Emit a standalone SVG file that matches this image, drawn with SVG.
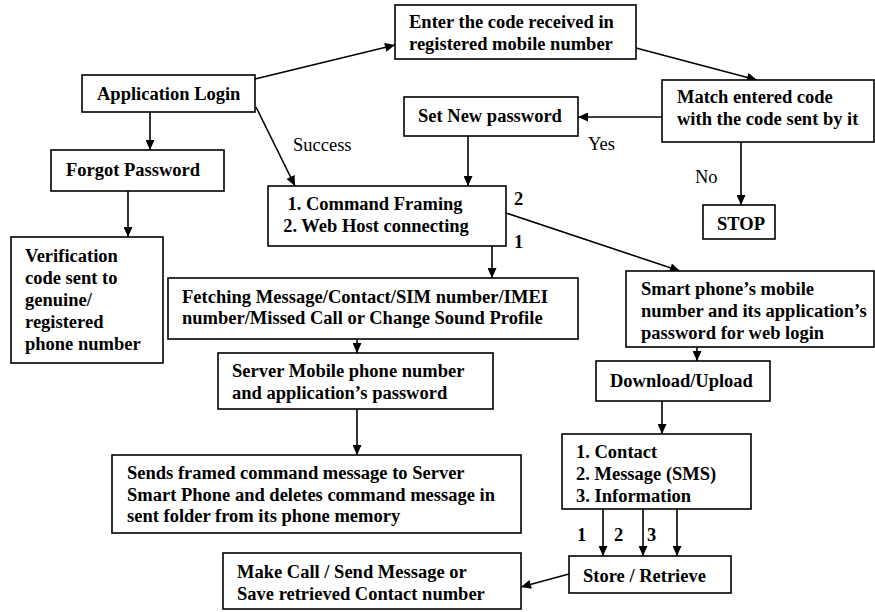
<svg xmlns="http://www.w3.org/2000/svg" width="875" height="612" viewBox="0 0 875 612">
  <style>
    .box { fill: #fff; stroke: #000; stroke-width: 1.6; }
    .t { font-family: "Liberation Serif", "Times New Roman", serif; font-size: 18.5px; font-weight: bold; fill: #000; }
    .lbl { font-family: "Liberation Serif", "Times New Roman", serif; font-size: 18.5px; fill: #000; }
    .c line { stroke: #000; stroke-width: 1.6; marker-end: url(#ah); }
  </style>
  <defs>
    <marker id="ah" viewBox="0 0 10 9" refX="10" refY="4.5" markerWidth="11" markerHeight="9" orient="auto" markerUnits="userSpaceOnUse">
      <path d="M0,0 L10,4.5 L0,9 z" fill="#000"/>
    </marker>
  </defs>
  <rect width="875" height="612" fill="#fff"/>

  <g id="connectors" class="c">
    <line x1="255" y1="79" x2="395" y2="45"/>
    <line x1="636" y1="48" x2="757" y2="80"/>
    <line x1="662" y1="117" x2="578" y2="117"/>
    <line x1="741" y1="142" x2="741" y2="205"/>
    <line x1="468" y1="136" x2="468" y2="186"/>
    <line x1="150" y1="112" x2="150" y2="150"/>
    <line x1="256" y1="107" x2="295" y2="186"/>
    <line x1="128" y1="191" x2="128" y2="237"/>
    <line x1="492" y1="246" x2="492" y2="278"/>
    <line x1="506" y1="213" x2="680" y2="271"/>
    <line x1="357" y1="320" x2="357" y2="353"/>
    <line x1="357" y1="409" x2="357" y2="455"/>
    <line x1="697" y1="347" x2="697" y2="361"/>
    <line x1="662" y1="401" x2="662" y2="434"/>
    <line x1="603" y1="509" x2="603" y2="556"/>
    <line x1="643" y1="509" x2="643" y2="556"/>
    <line x1="677" y1="509" x2="677" y2="556"/>
    <line x1="569" y1="574" x2="521" y2="587"/>
  </g>

  <g id="edge-labels">
    <text class="lbl" x="293" y="151">Success</text>
    <text class="lbl" x="588" y="150">Yes</text>
    <text class="lbl" x="695" y="183">No</text>
    <text class="t" x="514" y="205">2</text>
    <text class="t" x="514" y="248">1</text>
    <text class="t" x="577" y="541">1</text>
    <text class="t" x="614" y="541">2</text>
    <text class="t" x="647" y="541">3</text>
  </g>

  <g id="app-login">
    <rect class="box" x="82" y="75" width="173" height="37"/>
    <text class="t" x="97" y="100">Application Login</text>
  </g>
  <g id="enter-code">
    <rect class="box" x="395" y="5" width="241" height="54"/>
    <text class="t" x="409" y="28">Enter the code received in</text>
    <text class="t" x="409" y="50">registered mobile number</text>
  </g>
  <g id="match-code">
    <rect class="box" x="662" y="80" width="212" height="62"/>
    <text class="t" x="677" y="103">Match entered code</text>
    <text class="t" x="677" y="125">with the code sent by it</text>
  </g>
  <g id="set-password">
    <rect class="box" x="404" y="97" width="174" height="39"/>
    <text class="t" x="418" y="122">Set New password</text>
  </g>
  <g id="stop">
    <rect class="box" x="703" y="205" width="72" height="34"/>
    <text class="t" x="717" y="230">STOP</text>
  </g>
  <g id="forgot-password">
    <rect class="box" x="51" y="150" width="173" height="41"/>
    <text class="t" x="66" y="176">Forgot Password</text>
  </g>
  <g id="verification">
    <rect class="box" x="11" y="237" width="152" height="126"/>
    <text class="t" x="25" y="262">Verification</text>
    <text class="t" x="25" y="284">code sent to</text>
    <text class="t" x="25" y="306">genuine/</text>
    <text class="t" x="25" y="328">registered</text>
    <text class="t" x="25" y="350">phone number</text>
  </g>
  <g id="command">
    <rect class="box" x="268" y="186" width="238" height="60"/>
    <text class="t" x="375" y="210" text-anchor="middle">1. Command Framing</text>
    <text class="t" x="376" y="232" text-anchor="middle">2. Web Host connecting</text>
  </g>
  <g id="fetching">
    <rect class="box" x="168" y="278" width="410" height="61"/>
    <text class="t" x="182" y="303" textLength="366" lengthAdjust="spacing">Fetching Message/Contact/SIM number/IMEI</text>
    <text class="t" x="182" y="324">number/Missed Call or Change Sound Profile</text>
  </g>
  <g id="server">
    <rect class="box" x="218" y="353" width="275" height="56"/>
    <text class="t" x="232" y="377">Server Mobile phone number</text>
    <text class="t" x="232" y="399">and application’s password</text>
  </g>
  <g id="sends">
    <rect class="box" x="112" y="455" width="409" height="78"/>
    <text class="t" x="127" y="479">Sends framed command message to Server</text>
    <text class="t" x="127" y="501">Smart Phone and deletes command message in</text>
    <text class="t" x="127" y="522">sent folder from its phone memory</text>
  </g>
  <g id="make-call">
    <rect class="box" x="223" y="553" width="298" height="56"/>
    <text class="t" x="237" y="578">Make Call / Send Message or</text>
    <text class="t" x="237" y="600">Save retrieved Contact number</text>
  </g>
  <g id="smart-phone">
    <rect class="box" x="626" y="271" width="248" height="76"/>
    <text class="t" x="641" y="295">Smart phone’s mobile</text>
    <text class="t" x="641" y="317">number and its application’s</text>
    <text class="t" x="641" y="339">password for web login</text>
  </g>
  <g id="download">
    <rect class="box" x="596" y="361" width="174" height="40"/>
    <text class="t" x="610" y="387">Download/Upload</text>
  </g>
  <g id="data-list">
    <rect class="box" x="562" y="434" width="189" height="75"/>
    <text class="t" x="576" y="458">1. Contact</text>
    <text class="t" x="576" y="480">2. Message (SMS)</text>
    <text class="t" x="576" y="502">3. Information</text>
  </g>
  <g id="store">
    <rect class="box" x="569" y="556" width="162" height="37"/>
    <text class="t" x="583" y="582">Store / Retrieve</text>
  </g>
</svg>
